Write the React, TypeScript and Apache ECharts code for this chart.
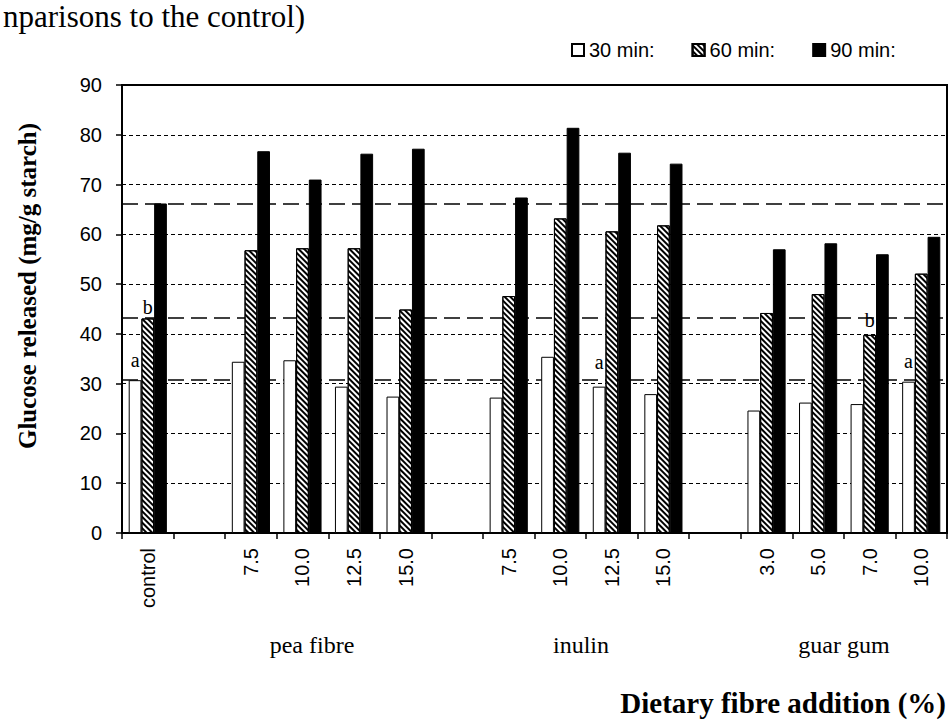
import React, { useEffect, useRef } from 'react';
import * as echarts from 'echarts';

// ---- data ----
const categoryKeys = ['control', 'gap1', 'pea7.5', 'pea10.0', 'pea12.5', 'pea15.0', 'gap2', 'inu7.5', 'inu10.0', 'inu12.5', 'inu15.0', 'gap3', 'guar3.0', 'guar5.0', 'guar7.0', 'guar10.0'];
const tickLabels = ['control', '', '7.5', '10.0', '12.5', '15.0', '', '7.5', '10.0', '12.5', '15.0', '', '3.0', '5.0', '7.0', '10.0'];
const groupLabels = ['pea fibre', 'inulin', 'guar gum'];
const seriesNames = ['30 min:', '60 min:', '90 min:'];
const min30 = [30.7, null, 34.4, 34.7, 29.4, 27.4, null, 27.2, 35.4, 29.4, 27.9, null, 24.6, 26.2, 25.9, 30.4];
const min60 = [43.1, null, 56.8, 57.2, 57.2, 44.9, null, 47.6, 63.2, 60.6, 61.8, null, 44.2, 48.0, 39.8, 52.1];
const min90 = [66.2, null, 76.7, 71.0, 76.2, 77.2, null, 67.4, 81.4, 76.4, 74.2, null, 57.0, 58.2, 56.0, 59.5];
const controlLevels = [30.7, 43.2, 66.2];
const annotationSeries = [0, 1, 0, 1, 0];
const annotationIndex = [0, 0, 9, 14, 15];
const annotationText = ['a', 'b', 'a', 'b', 'a'];
const titleText = 'nparisons to the control)';
const yAxisTitle = 'Glucose released (mg/g starch)';
const xAxisTitle = 'Dietary fibre addition (%)';

// ---- layout / style (not data) ----
const annotationDistance = [10, 1, 15, 5, 11];
const groupLabelX = [312, 581, 844];
const SERIF = '"Liberation Serif", "Times New Roman", serif';
const SANS = '"Liberation Sans", Arial, sans-serif';

function buildData(values: (number | null)[], s: number) {
  return values.map((v, i) => {
    let k = -1;
    for (let j = 0; j < annotationIndex.length; j++) {
      if (annotationSeries[j] === s && annotationIndex[j] === i) k = j;
    }
    if (k < 0 || v == null) return v;
    return {
      value: v,
      label: {
        show: true,
        formatter: annotationText[k],
        position: 'top',
        distance: annotationDistance[k],
        fontFamily: SERIF,
        fontSize: 20,
        color: '#000',
      },
    };
  });
}

export default function App() {
  const ref = useRef<HTMLDivElement>(null);
  useEffect(() => {
    if (!ref.current) return;
    const chart = echarts.init(ref.current, undefined, { renderer: 'svg' });
    const seriesValues = [min30, min60, min90];
    const styles = [
      { color: '#fff', borderColor: '#000', borderWidth: 1 },
      {
        color: '#fff',
        borderColor: '#000',
        borderWidth: 1,
        decal: {
          symbol: 'rect',
          symbolSize: 1,
          color: '#000',
          backgroundColor: '#fff',
          dashArrayX: [1, 0],
          dashArrayY: [1.4, 1.4],
          rotation: Math.PI / 4,
        },
      },
      { color: '#000', borderColor: '#000', borderWidth: 1 },
    ];
    const series: any[] = seriesValues.map((vals, s) => ({
      name: seriesNames[s],
      type: 'bar',
      data: buildData(vals, s),
      barGap: '0%',
      barCategoryGap: '26%',
      itemStyle: styles[s],
      z: 3,
    }));
    series[0].markLine = {
      silent: true,
      symbol: 'none',
      z: 1,
      label: { show: false },
      lineStyle: { color: '#000', type: [16, 7], width: 1.6 },
      data: controlLevels.map((v) => ({ yAxis: v })),
    };

    chart.setOption({
      animation: false,
      backgroundColor: '#fff',
      grid: {
        left: 122,
        right: 2,
        top: 85,
        bottom: 191,
        show: true,
        borderColor: '#000',
        borderWidth: 2,
        backgroundColor: 'transparent',
      },
      legend: {
        left: 566,
        top: 35,
        itemWidth: 12,
        itemHeight: 12,
        itemGap: 37,
        icon: 'rect',
        data: seriesNames,
        textStyle: { fontFamily: SANS, fontSize: 20, color: '#000' },
      },
      xAxis: {
        type: 'category',
        data: categoryKeys,
        boundaryGap: true,
        axisLine: { show: true, lineStyle: { color: '#000', width: 2 } },
        axisTick: { show: true, length: 6, interval: 0, lineStyle: { color: '#000', width: 1.5 } },
        axisLabel: {
          interval: 0,
          rotate: 90,
          margin: 15,
          fontFamily: SANS,
          fontSize: 20,
          color: '#000',
          formatter: (_v: string, i: number) => tickLabels[i],
        },
        splitLine: { show: false },
      },
      yAxis: {
        type: 'value',
        min: 0,
        max: 90,
        interval: 10,
        axisLine: { show: true, lineStyle: { color: '#000', width: 2 } },
        axisTick: { show: true, length: 6, lineStyle: { color: '#000', width: 1.5 } },
        axisLabel: { margin: 20, fontFamily: SANS, fontSize: 20, color: '#000' },
        splitLine: { show: true, lineStyle: { color: '#000', type: [4, 3], width: 1.2 } },
      },
      graphic: [
        {
          type: 'text',
          left: 3,
          top: 1,
          style: { text: titleText, font: `31px ${SERIF}`, fill: '#000' },
        },
        {
          type: 'text',
          x: 27,
          y: 286,
          rotation: Math.PI / 2,
          style: {
            text: yAxisTitle,
            font: `bold 25px ${SERIF}`,
            fill: '#000',
            align: 'center',
            verticalAlign: 'middle',
          },
        },
        ...groupLabels.map((t, i) => ({
          type: 'text',
          x: groupLabelX[i],
          y: 645,
          style: { text: t, font: `24px ${SERIF}`, fill: '#000', align: 'center', verticalAlign: 'middle' },
        })),
        {
          type: 'text',
          x: 946,
          y: 703,
          style: {
            text: xAxisTitle,
            font: `bold 29px ${SERIF}`,
            fill: '#000',
            align: 'right',
            verticalAlign: 'middle',
          },
        },
      ],
      series,
    });
    return () => chart.dispose();
  }, []);
  return <div ref={ref} style={{ position: 'fixed', left: 0, top: 0, width: 949, height: 724 }} />;
}
